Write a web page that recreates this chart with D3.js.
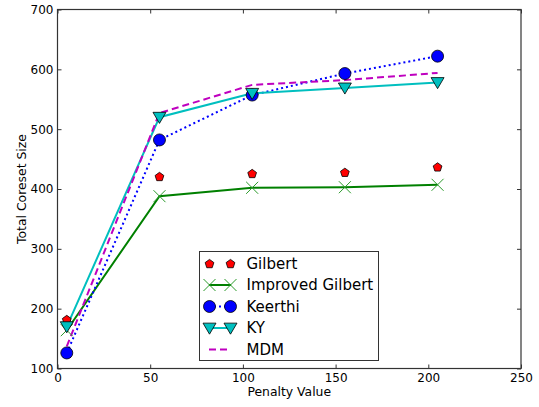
<!DOCTYPE html>
<html><head><meta charset="utf-8">
<script src="https://cdn.jsdelivr.net/npm/d3@7"></script>
<style>body{margin:0;background:#fff}svg{display:block}text{font-family:"DejaVu Sans",sans-serif}</style>
</head><body><svg id="c" width="539" height="407"></svg>
<script>
const penalty = [5, 55, 105, 155, 205];
const gilbert = [182, 421, 426, 428, 437];
const improvedGilbert = [164, 388, 402, 403, 407];
const keerthi = [126, 482, 557, 593, 622];
const ky = [170, 520, 560, 569, 578];
const mdm = [137, 527, 574, 582, 594];
const xTicks = [0, 50, 100, 150, 200, 250];
const yTicks = [100, 200, 300, 400, 500, 600, 700];
const seriesNames = ["Gilbert", "Improved Gilbert", "Keerthi", "KY", "MDM"];

const W = 539, H = 407;
const m = {l: 57.5, r: 521, t: 9.5, b: 368.5};
const svg = d3.select("#c");
const x = d3.scaleLinear().domain([0, 250]).range([m.l, m.r]);
const y = d3.scaleLinear().domain([100, 700]).range([m.b, m.t]);

const series = [
  {name: seriesNames[0], v: gilbert, color: "#ff0000", line: false, marker: "pent"},
  {name: seriesNames[1], v: improvedGilbert, color: "#008000", line: true, dash: null, marker: "x"},
  {name: seriesNames[2], v: keerthi, color: "#0000ff", line: true, dash: "2,3", marker: "circle"},
  {name: seriesNames[3], v: ky, color: "#00bfbf", line: true, dash: null, marker: "tri"},
  {name: seriesNames[4], v: mdm, color: "#bf00bf", line: true, dash: "7,4", marker: null}
];

function drawMarker(g, type, cx, cy, color) {
  if (type === "circle") {
    g.append("circle").attr("cx", cx).attr("cy", cy).attr("r", 6).attr("fill", color).attr("stroke", "#000").attr("stroke-width", 0.8);
  } else if (type === "tri") {
    const s = 6.5;
    g.append("path").attr("d", `M${cx - s},${cy - s * 0.75}L${cx + s},${cy - s * 0.75}L${cx},${cy + s * 0.95}Z`)
      .attr("fill", color).attr("stroke", "#000").attr("stroke-width", 0.8);
  } else if (type === "pent") {
    const r = 4.6;
    const pts = d3.range(5).map(i => {
      const a = -Math.PI / 2 + i * 2 * Math.PI / 5;
      return [cx + r * Math.cos(a), cy + r * Math.sin(a) + 0.5];
    });
    g.append("path").attr("d", "M" + pts.map(p => p.join(",")).join("L") + "Z")
      .attr("fill", color).attr("stroke", "#000").attr("stroke-width", 0.8);
  } else if (type === "x") {
    const s = 6;
    g.append("path").attr("d", `M${cx - s},${cy - s}L${cx + s},${cy + s}M${cx - s},${cy + s}L${cx + s},${cy - s}`)
      .attr("fill", "none").attr("stroke", "#2a9a2a").attr("stroke-width", 1);
  }
}

const plot = svg.append("g");
const line = d3.line().x((d, i) => x(penalty[i])).y(d => y(d));
series.forEach(s => {
  if (s.line) {
    plot.append("path").datum(s.v).attr("d", line).attr("fill", "none")
      .attr("stroke", s.color).attr("stroke-width", 2)
      .attr("stroke-dasharray", s.dash);
  }
});
series.forEach(s => {
  if (s.marker) s.v.forEach((v, i) => drawMarker(plot, s.marker, x(penalty[i]), y(v), s.color));
});

// axes (inward ticks on all four sides)
function styleAxis(g, hide) {
  g.select(".domain").remove();
  g.selectAll(".tick line").attr("stroke", "#333").attr("stroke-width", 1);
  g.selectAll(".tick text").attr("font-size", 12).attr("fill", "#000").attr("font-family", "DejaVu Sans");
  if (hide) g.selectAll(".tick text").remove();
}
svg.append("g").attr("transform", `translate(0,${m.b})`)
  .call(d3.axisBottom(x).tickValues(xTicks).tickFormat(d3.format("d")).tickSizeInner(-4).tickSizeOuter(0).tickPadding(5))
  .call(g => styleAxis(g, false));
svg.append("g").attr("transform", `translate(0,${m.t})`)
  .call(d3.axisTop(x).tickValues(xTicks).tickSizeInner(-4).tickSizeOuter(0))
  .call(g => styleAxis(g, true));
svg.append("g").attr("transform", `translate(${m.l},0)`)
  .call(d3.axisLeft(y).tickValues(yTicks).tickFormat(d3.format("d")).tickSizeInner(-4).tickSizeOuter(0).tickPadding(4))
  .call(g => styleAxis(g, false));
svg.append("g").attr("transform", `translate(${m.r},0)`)
  .call(d3.axisRight(y).tickValues(yTicks).tickSizeInner(-4).tickSizeOuter(0))
  .call(g => styleAxis(g, true));

svg.append("rect").attr("x", m.l).attr("y", m.t).attr("width", m.r - m.l).attr("height", m.b - m.t)
  .attr("fill", "none").attr("stroke", "#333").attr("stroke-width", 1.2);

svg.append("text").attr("x", (m.l + m.r) / 2).attr("y", 396).attr("text-anchor", "middle")
  .attr("font-size", 12.4).text("Penalty Value");
svg.append("text").attr("transform", `translate(26,${(m.t + m.b) / 2}) rotate(-90)`).attr("text-anchor", "middle")
  .attr("font-size", 12.4).text("Total Coreset Size");

// legend
const lg = svg.append("g");
lg.append("rect").attr("x", 199.5).attr("y", 251.5).attr("width", 179).attr("height", 109)
  .attr("fill", "#fff").attr("stroke", "#333").attr("stroke-width", 1);
series.forEach((s, i) => {
  const cy = 263.5 + i * 21.5;
  if (s.line) {
    lg.append("line").attr("x1", 209).attr("x2", 231).attr("y1", cy).attr("y2", cy)
      .attr("stroke", s.color).attr("stroke-width", 2).attr("stroke-dasharray", s.dash);
  }
  if (s.marker) {
    drawMarker(lg, s.marker, 209.5, cy, s.color);
    drawMarker(lg, s.marker, 230.5, cy, s.color);
  }
  lg.append("text").attr("x", 246.5).attr("y", cy).attr("dy", "0.36em").attr("font-size", 15).text(s.name);
});
</script></body></html>
